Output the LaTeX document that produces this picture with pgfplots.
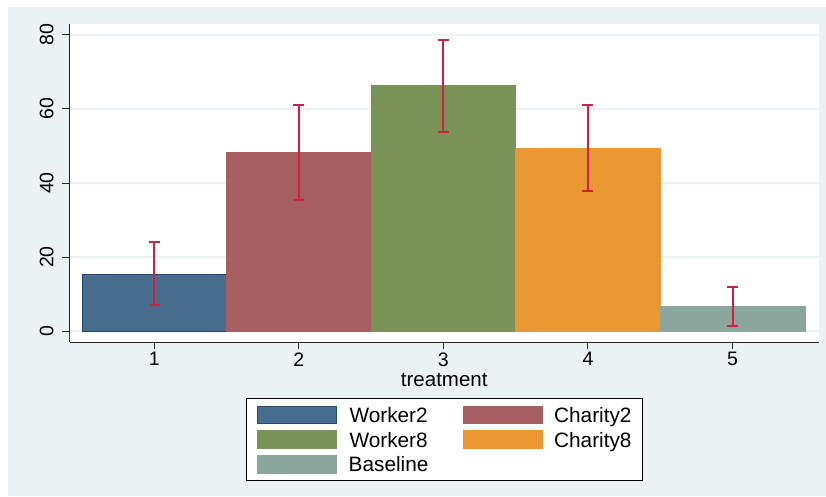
\documentclass[border=0pt]{standalone}
\usepackage{pgfplots}
\pgfplotsset{compat=1.18}
\usepackage{fontspec}
\setmainfont{Liberation Sans}
\definecolor{bg}{HTML}{EAF2F3}
\definecolor{c1}{HTML}{486C8D}
\definecolor{c1d}{HTML}{1F4A72}
\definecolor{c2}{HTML}{A65E61}
\definecolor{c3}{HTML}{799356}
\definecolor{c4}{HTML}{EA9834}
\definecolor{c5}{HTML}{8BA69C}
\definecolor{err}{HTML}{D01F40}
\begin{document}
\begin{tikzpicture}[x=1pt,y=1pt]
\useasboundingbox (0,0) rectangle (826,496);
\fill[bg] (8,0) rectangle (826,489);
\begin{axis}[
  at={(69.5pt,154pt)}, anchor=south west,
  scale only axis, width=749.5pt, height=318pt,
  xmin=0.414, xmax=5.598, ymin=-2.97, ymax=82.97,
  axis background/.style={fill=white},
  axis x line*=bottom, axis y line*=left,
  axis line style={-, draw=black!85, line width=1pt},
  xtick={1,2,3,4,5}, ytick={0,20,40,60,80},
  tick align=outside, major tick length=7pt,
  tick style={draw=black!85, line width=1pt},
  ymajorgrids, grid style={draw=bg, line width=1.3pt},
  /pgf/number format/assume math mode=true,
  tick label style={font=\fontsize{19.5}{22}\selectfont},
  yticklabel style={rotate=90, anchor=south, inner ysep=8.8pt},
  xlabel={treatment},
  xlabel style={font=\fontsize{20.5}{24}\selectfont, at={(axis description cs:0.5,-0.1406)}, anchor=base},
  legend columns=2,
  legend style={at={(axis description cs:0.5001,-0.1752)}, anchor=north, draw=black, line width=0.8pt, fill=white,
    inner xsep=11pt, inner ysep=7.5pt, column sep=12pt, row sep=6.3pt,
    font=\fontsize{20.8}{24}\selectfont,
    nodes={inner sep=0pt, text height=16.7pt, text depth=1pt, anchor=base},
    /tikz/every even column/.append style={column sep=34pt}},
  legend cell align=left,
  legend image code/.code={\fill[#1] (0pt,-1pt) rectangle (79pt,16.7pt);},
  error bars/error bar style={draw=err, line width=2pt},
  error bars/error mark options={rotate=90, draw=err, line width=2pt, mark size=5.5pt},
]
\addplot[ybar, bar width=1, bar shift=0pt, fill=c1, draw=c1d, line width=0.6pt,
  error bars/.cd, y dir=both, y explicit]
  coordinates {(1,15.3) += (0,8.7) -= (0,8.4)};
\addlegendentry{Worker2}
\addplot[ybar, bar width=1, bar shift=0pt, fill=c2, draw=c2, line width=0.6pt,
  error bars/.cd, y dir=both, y explicit]
  coordinates {(2,48.3) += (0,12.7) -= (0,13.0)};
\addlegendentry{Charity2}
\addplot[ybar, bar width=1, bar shift=0pt, fill=c3, draw=c3, line width=0.6pt,
  error bars/.cd, y dir=both, y explicit]
  coordinates {(3,66.3) += (0,12.4) -= (0,12.5)};
\addlegendentry{Worker8}
\addplot[ybar, bar width=1, bar shift=0pt, fill=c4, draw=c4, line width=0.6pt,
  error bars/.cd, y dir=both, y explicit]
  coordinates {(4,49.5) += (0,11.7) -= (0,11.7)};
\addlegendentry{Charity8}
\addplot[ybar, bar width=1, bar shift=0pt, fill=c5, draw=c5, line width=0.6pt,
  error bars/.cd, y dir=both, y explicit]
  coordinates {(5,6.7) += (0,5.2) -= (0,5.4)};
\addlegendentry{Baseline}
\end{axis}
\end{tikzpicture}
\end{document}
